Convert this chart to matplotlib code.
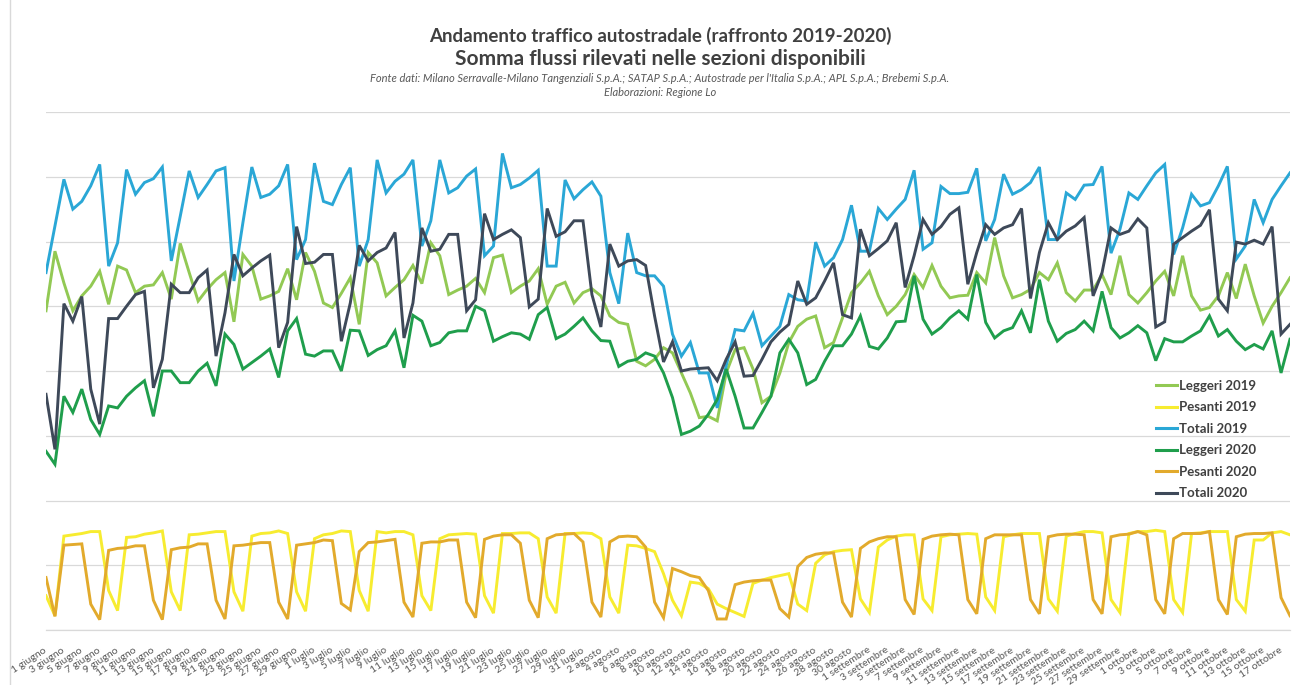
import matplotlib
matplotlib.use("Agg")
import matplotlib.pyplot as plt
from matplotlib.lines import Line2D

# ---------------- data (gridline units) ----------------
months = ["giugno", "luglio", "agosto", "settembre", "ottobre"]
month_days = [30, 31, 31, 30, 18]

leggeri_2019 = [
    4.93, 5.85, 5.36, 4.93, 5.16, 5.31, 5.54, 5.03, 5.62, 5.56,
    5.21, 5.31, 5.33, 5.52, 5.11, 5.97, 5.52, 5.08, 5.26, 5.41,
    5.52, 4.76, 5.80, 5.62, 5.11, 5.16, 5.23, 5.58, 5.10, 5.83,
    5.54, 5.05, 4.98, 5.20, 5.44, 4.72, 5.83, 5.67, 5.16, 5.29,
    5.41, 5.63, 5.35, 5.98, 5.78, 5.18, 5.25, 5.31, 5.43, 5.21,
    5.75, 5.79, 5.21, 5.31, 5.39, 5.58, 5.03, 5.31, 5.37, 5.05,
    5.21, 5.27, 5.16, 4.85, 4.75, 4.72, 4.15, 4.08, 4.18, 4.36,
    4.28, 3.97, 3.66, 3.28, 3.30, 3.23, 3.97, 4.33, 4.36, 4.03,
    3.51, 3.61, 3.97, 4.44, 4.69, 4.80, 4.85, 4.36, 4.44, 4.82,
    5.21, 5.36, 5.54, 5.16, 4.87, 5.00, 5.18, 5.49, 5.29, 5.63,
    5.31, 5.13, 5.16, 5.17, 5.52, 5.36, 6.06, 5.47, 5.13, 5.18,
    5.26, 5.52, 5.41, 5.67, 5.21, 5.08, 5.25, 5.25, 5.49, 5.18,
    5.78, 5.18, 5.05, 5.21, 5.39, 5.54, 5.16, 5.78, 5.16, 4.94,
    4.98, 5.16, 5.52, 5.12, 5.65, 5.16, 4.74, 5.00, 5.21, 5.44,
]

pesanti_2019 = [
    0.53, 0.22, 1.45, 1.47, 1.49, 1.52, 1.52, 0.61, 0.30, 1.43,
    1.44, 1.48, 1.50, 1.53, 0.59, 0.30, 1.47, 1.48, 1.50, 1.52,
    1.52, 0.59, 0.29, 1.45, 1.49, 1.50, 1.53, 1.49, 0.59, 0.29,
    1.41, 1.47, 1.49, 1.53, 1.52, 0.61, 0.29, 1.52, 1.50, 1.52,
    1.52, 1.47, 0.53, 0.30, 1.41, 1.47, 1.48, 1.49, 1.48, 0.53,
    0.26, 1.49, 1.49, 1.50, 1.50, 1.41, 0.51, 0.26, 1.49, 1.49,
    1.50, 1.49, 1.41, 0.51, 0.26, 1.31, 1.30, 1.26, 1.21, 0.87,
    0.46, 0.22, 0.74, 0.72, 0.64, 0.40, 0.33, 0.27, 0.21, 0.72,
    0.77, 0.81, 0.84, 0.87, 0.40, 0.30, 1.03, 1.16, 1.21, 1.23,
    1.24, 0.48, 0.27, 1.28, 1.39, 1.45, 1.47, 1.47, 0.48, 0.30,
    1.44, 1.47, 1.48, 1.49, 1.48, 0.51, 0.30, 1.44, 1.47, 1.49,
    1.49, 1.49, 0.48, 0.29, 1.45, 1.49, 1.52, 1.52, 1.50, 0.47,
    0.27, 1.49, 1.52, 1.52, 1.54, 1.52, 0.47, 0.27, 1.49, 1.50,
    1.52, 1.52, 1.52, 0.47, 0.29, 1.39, 1.39, 1.50, 1.52, 1.47,
]

totali_2019 = [
    5.52, 6.24, 6.96, 6.50, 6.62, 6.86, 7.19, 5.62, 5.98, 7.11,
    6.73, 6.91, 6.97, 7.15, 5.70, 6.39, 7.09, 6.68, 6.88, 7.09,
    7.14, 5.39, 6.29, 7.15, 6.68, 6.73, 6.86, 7.19, 5.72, 6.03,
    7.21, 6.62, 6.57, 6.88, 7.14, 5.62, 6.03, 7.26, 6.75, 6.93,
    7.04, 7.26, 5.93, 6.32, 7.26, 6.75, 6.83, 7.01, 7.12, 5.78,
    5.93, 7.36, 6.83, 6.88, 6.98, 7.10, 5.62, 5.62, 6.95, 6.66,
    6.80, 6.92, 6.70, 5.52, 5.04, 6.13, 5.52, 5.47, 5.47, 5.31,
    4.57, 4.23, 4.44, 3.97, 3.97, 3.43, 4.08, 4.64, 4.62, 4.89,
    4.39, 4.54, 4.69, 5.18, 5.10, 5.08, 5.99, 5.62, 5.75, 6.03,
    6.56, 5.85, 5.85, 6.51, 6.34, 6.50, 6.65, 7.10, 5.88, 5.98,
    6.85, 6.74, 6.74, 6.76, 7.13, 6.01, 6.34, 7.04, 6.73, 6.80,
    6.91, 7.15, 6.03, 6.03, 6.75, 6.65, 6.87, 6.88, 7.16, 5.82,
    6.19, 6.75, 6.65, 6.86, 7.06, 7.19, 5.80, 6.21, 6.73, 6.55,
    6.60, 6.86, 7.16, 5.73, 5.93, 6.65, 6.29, 6.65, 6.86, 7.06,
]

leggeri_2020 = [
    2.76, 2.56, 3.61, 3.36, 3.72, 3.25, 3.02, 3.46, 3.43, 3.61,
    3.74, 3.85, 3.30, 4.00, 4.00, 3.82, 3.82, 4.00, 4.12, 3.77,
    4.57, 4.41, 4.03, 4.13, 4.23, 4.34, 3.90, 4.62, 4.81, 4.26,
    4.23, 4.31, 4.31, 4.00, 4.63, 4.62, 4.24, 4.33, 4.39, 4.62,
    4.05, 4.86, 4.77, 4.39, 4.44, 4.59, 4.62, 4.62, 5.00, 4.93,
    4.46, 4.53, 4.59, 4.57, 4.49, 4.87, 4.98, 4.50, 4.57, 4.69,
    4.82, 4.62, 4.47, 4.46, 4.07, 4.15, 4.18, 4.28, 4.23, 3.97,
    3.59, 3.02, 3.07, 3.15, 3.33, 3.56, 4.03, 3.61, 3.12, 3.12,
    3.36, 3.61, 4.28, 4.49, 4.28, 3.79, 3.87, 4.15, 4.39, 4.39,
    4.57, 4.85, 4.38, 4.34, 4.51, 4.76, 4.77, 5.47, 4.80, 4.57,
    4.67, 4.82, 4.93, 4.80, 5.49, 4.75, 4.51, 4.62, 4.67, 4.93,
    4.59, 5.41, 4.77, 4.46, 4.58, 4.64, 4.77, 4.62, 5.23, 4.67,
    4.51, 4.59, 4.70, 4.59, 4.16, 4.50, 4.45, 4.45, 4.54, 4.62,
    4.85, 4.54, 4.64, 4.46, 4.33, 4.41, 4.34, 4.62, 3.97, 4.49,
]

pesanti_2020 = [
    0.81, 0.21, 1.31, 1.32, 1.33, 0.40, 0.16, 1.23, 1.26, 1.27,
    1.30, 1.30, 0.46, 0.16, 1.24, 1.27, 1.28, 1.33, 1.33, 0.46,
    0.17, 1.30, 1.31, 1.33, 1.35, 1.35, 0.43, 0.17, 1.31, 1.33,
    1.35, 1.39, 1.38, 0.41, 0.31, 1.21, 1.35, 1.36, 1.38, 1.40,
    0.43, 0.20, 1.34, 1.36, 1.36, 1.39, 1.39, 0.43, 0.19, 1.40,
    1.45, 1.47, 1.47, 1.34, 0.46, 0.19, 1.41, 1.47, 1.48, 1.49,
    1.36, 0.43, 0.20, 1.36, 1.44, 1.45, 1.44, 1.28, 0.43, 0.19,
    0.95, 0.90, 0.84, 0.81, 0.61, 0.17, 0.17, 0.70, 0.74, 0.76,
    0.77, 0.77, 0.33, 0.20, 0.98, 1.12, 1.17, 1.19, 1.19, 0.43,
    0.20, 1.26, 1.36, 1.41, 1.44, 1.44, 0.47, 0.24, 1.40, 1.45,
    1.47, 1.48, 1.47, 0.47, 0.25, 1.41, 1.47, 1.47, 1.47, 1.47,
    0.47, 0.25, 1.44, 1.47, 1.48, 1.48, 1.47, 0.47, 0.25, 1.44,
    1.47, 1.48, 1.52, 1.47, 0.47, 0.25, 1.41, 1.49, 1.49, 1.49,
    1.52, 0.47, 0.24, 1.44, 1.48, 1.49, 1.49, 1.50, 0.50, 0.22,
]

totali_2020 = [
    3.64, 2.79, 5.04, 4.77, 5.15, 3.72, 3.18, 4.81, 4.81, 5.00,
    5.18, 5.23, 3.74, 4.18, 5.34, 5.21, 5.21, 5.44, 5.56, 4.23,
    4.90, 5.80, 5.47, 5.59, 5.70, 5.79, 4.36, 4.75, 6.23, 5.66,
    5.68, 5.80, 5.80, 4.46, 5.05, 5.94, 5.70, 5.83, 5.90, 6.14,
    4.51, 5.05, 6.21, 5.85, 5.88, 6.11, 6.11, 4.93, 5.10, 6.43,
    6.03, 6.11, 6.18, 6.06, 4.99, 5.11, 6.51, 6.08, 6.15, 6.32,
    6.32, 5.18, 4.68, 5.96, 5.62, 5.70, 5.72, 5.63, 4.85, 4.14,
    4.45, 4.00, 4.03, 4.04, 4.05, 3.85, 4.18, 4.45, 3.92, 3.93,
    4.18, 4.45, 4.60, 4.72, 5.39, 5.03, 5.13, 5.39, 5.67, 4.87,
    4.82, 6.19, 5.78, 5.89, 6.01, 6.29, 5.29, 5.78, 6.34, 6.11,
    6.23, 6.42, 6.52, 5.34, 5.83, 6.26, 6.11, 6.21, 6.26, 6.51,
    5.12, 5.83, 6.29, 6.03, 6.16, 6.24, 6.37, 5.16, 5.52, 6.21,
    6.11, 6.16, 6.35, 6.21, 4.68, 4.76, 5.96, 6.06, 6.16, 6.25,
    6.49, 5.11, 4.93, 5.99, 5.96, 6.02, 5.96, 6.23, 4.57, 4.72,
]

series_names = ["Leggeri 2019", "Pesanti 2019", "Totali 2019",
                "Leggeri 2020", "Pesanti 2020", "Totali 2020"]
series_colors = ["#92c954", "#f7ec30", "#2aa7d6",
                 "#1f9e4c", "#e2aa2c", "#3e4959"]

# category labels
day_labels = []
for m, n in zip(months, month_days):
    for d in range(1, n + 1):
        day_labels.append(f"{d} {m}")

# ---------------- figure ----------------
W, H = 1300, 685
fig = plt.figure(figsize=(W / 100, H / 100), dpi=100)
fig.patch.set_facecolor("white")

FONT = "Lato"
x0, x1 = 46, 1290
ytop, ybot = 112, 630
ax = fig.add_axes([x0 / W, (H - ybot) / H, (x1 - x0) / W, (ybot - ytop) / H])

xs = list(range(len(day_labels)))
all_series = [leggeri_2019, pesanti_2019, totali_2019,
              leggeri_2020, pesanti_2020, totali_2020]
for vals, name, col in zip(all_series, series_names, series_colors):
    ax.plot(xs, vals, color=col, lw=2.1, label=name, solid_joinstyle="miter")

ax.set_xlim(0, len(day_labels) - 1)
ax.set_ylim(0, 8)
ax.set_yticks(range(0, 9))
ax.yaxis.grid(True, color="#d9d9d9", lw=0.9)
ax.set_axisbelow(True)
ax.tick_params(axis="y", length=0, labelleft=False)
for s in ["top", "right", "left"]:
    ax.spines[s].set_visible(False)
ax.spines["bottom"].set_color("#d9d9d9")
ax.spines["bottom"].set_linewidth(0.9)

tick_pos = xs[::2]
ax.set_xticks(tick_pos)
ax.set_xticklabels([day_labels[i] for i in tick_pos], rotation=33,
                   ha="right", va="center", rotation_mode="anchor",
                   fontsize=7.5, color="#595959", family=FONT)
ax.tick_params(axis="x", length=0, pad=14)

# legend
handles = [Line2D([0], [0], color=c, lw=2.2) for c in series_colors]
leg = fig.legend(handles, series_names, loc="upper left",
                 bbox_to_anchor=(1144 / W, 1 - 368 / H),
                 frameon=False, handlelength=1.6, handletextpad=0.15,
                 labelspacing=0.72, prop={"family": FONT, "weight": "bold", "size": 9.5})
for t in leg.get_texts():
    t.set_color("#404040")

# titles
cx = 660 / W
fig.text(cx, 1 - 36 / H, "Andamento traffico autostradale (raffronto 2019-2020)",
         ha="center", va="center", fontsize=13.5, fontweight="bold",
         color="#404040", family=FONT)
fig.text(cx, 1 - 59 / H, "Somma flussi rilevati nelle sezioni disponibili",
         ha="center", va="center", fontsize=15, fontweight="bold",
         color="#404040", family=FONT)
fig.text(cx, 1 - 78 / H,
         "Fonte dati: Milano Serravalle-Milano Tangenziali S.p.A.; SATAP S.p.A.; "
         "Autostrade per l'Italia S.p.A.; APL S.p.A.; Brebemi S.p.A.",
         ha="center", va="center", fontsize=8, style="italic",
         color="#595959", family=FONT)
fig.text(cx, 1 - 92 / H, "Elaborazioni: Regione Lo",
         ha="center", va="center", fontsize=8, style="italic",
         color="#595959", family=FONT)

# left border line of the chart area
fig.add_artist(Line2D([10 / W, 10 / W], [0, 1], color="#d9d9d9", lw=1.0,
                      transform=fig.transFigure))

fig.savefig("out.png", dpi=100, facecolor="white")
